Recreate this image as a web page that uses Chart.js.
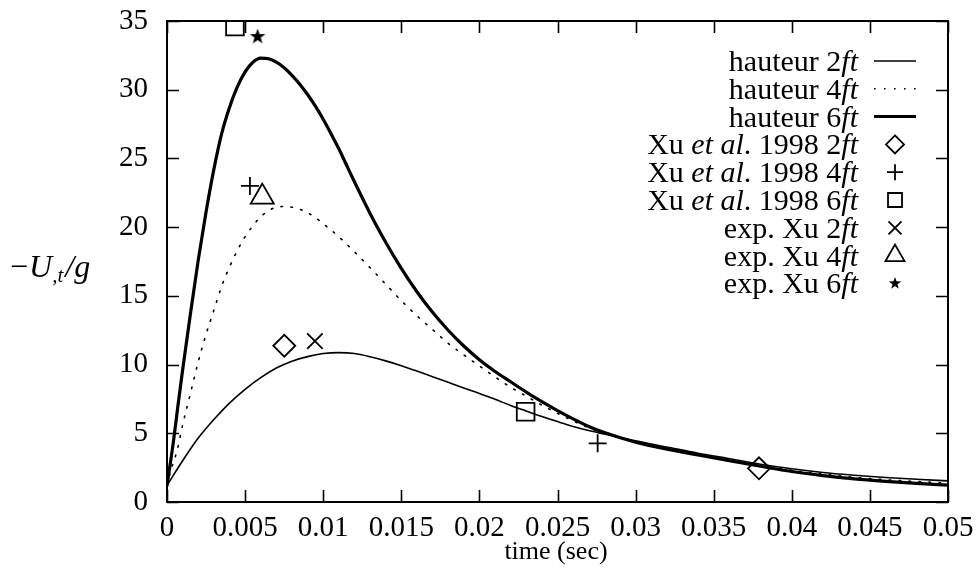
<!DOCTYPE html>
<html><head><meta charset="utf-8">
<script src="https://cdn.jsdelivr.net/npm/chart.js@4.4.0/dist/chart.umd.min.js"></script>
<style>html,body{margin:0;padding:0;background:#fff}#wrap{width:977px;height:573px;position:relative}</style>
</head><body><div id="wrap"><canvas id="c" width="977" height="573"></canvas></div>
<script>
// ---- data ----
const time6 = [0,0.0004,0.0007,0.001,0.0015,0.002,0.0025,0.003,0.0035,0.004,0.0045,0.005,0.0055,0.006,0.0065,0.007,0.0075,0.008,0.0085,0.009,0.0095,0.010,0.0105,0.011,0.0115,0.012,0.013,0.014,0.015,0.016,0.017,0.018,0.019,0.020,0.021,0.022,0.023,0.024,0.025,0.026,0.027,0.028,0.030,0.032,0.034,0.036,0.038,0.040,0.042,0.044,0.046,0.048,0.050];
const haut6 = [1.2,4.3,7.0,9.6,13.7,17.6,21.1,24.2,26.8,28.7,30.2,31.3,32.0,32.3,32.25,32.0,31.6,31.05,30.4,29.65,28.8,27.85,26.8,25.7,24.5,23.3,21.0,18.9,17.0,15.3,13.8,12.5,11.35,10.35,9.5,8.75,8.0,7.3,6.65,6.05,5.5,5.05,4.35,3.85,3.42,3.0,2.6,2.22,1.92,1.68,1.5,1.35,1.23];
const time4 = [0,0.0003,0.00066,0.001,0.0015,0.002,0.0025,0.003,0.0035,0.004,0.0045,0.005,0.0055,0.006,0.0065,0.007,0.0075,0.008,0.0085,0.009,0.0095,0.010,0.011,0.012,0.013,0.014,0.015,0.016,0.017,0.018,0.019,0.020,0.021,0.022,0.023,0.024,0.025,0.026,0.027,0.028,0.030,0.032,0.034,0.036,0.038,0.040,0.042,0.044,0.046,0.048,0.050];
const haut4 = [1.2,2.5,3.8,5.6,7.9,10.2,12.2,13.95,15.7,17.1,18.3,19.3,20.1,20.75,21.2,21.45,21.5,21.45,21.3,21.05,20.7,20.25,19.3,18.2,17.05,15.85,14.65,13.55,12.55,11.55,10.7,9.9,9.1,8.35,7.7,7.05,6.45,5.9,5.4,5.0,4.35,3.85,3.42,3.02,2.65,2.3,2.02,1.8,1.62,1.49,1.38];
const time2 = [0,0.001,0.002,0.003,0.004,0.005,0.006,0.007,0.008,0.009,0.010,0.011,0.012,0.013,0.014,0.015,0.016,0.017,0.018,0.019,0.020,0.021,0.022,0.023,0.024,0.025,0.026,0.027,0.028,0.030,0.032,0.034,0.036,0.038,0.040,0.042,0.044,0.046,0.048,0.050];
const haut2 = [1.2,3.0,4.65,6.0,7.2,8.2,9.05,9.75,10.25,10.58,10.8,10.87,10.8,10.57,10.27,9.92,9.53,9.12,8.71,8.3,7.9,7.47,7.03,6.62,6.22,5.85,5.5,5.2,4.95,4.45,4.0,3.55,3.15,2.75,2.42,2.15,1.95,1.78,1.65,1.54];

const xu2Time = [0.00751, 0.0379];  const xu2Val = [11.37, 2.45];
const xu4Time = [0.00531, 0.02757]; const xu4Val = [23.0, 4.27];
const xu6Time = [0.00435, 0.02296]; const xu6Val = [34.6, 6.57];
const exp2Time = [0.00947]; const exp2Val = [11.7];
const exp4Time = [0.0061];  const exp4Val = [22.2];
const exp6Time = [0.0058];  const exp6Val = [33.9];

const xTickValues = [0,0.005,0.01,0.015,0.02,0.025,0.03,0.035,0.04,0.045,0.05];
const xTickLabels = ['0','0.005','0.01','0.015','0.02','0.025','0.03','0.035','0.04','0.045','0.05'];
const yTickValues = [0,5,10,15,20,25,30,35];
const yTickLabels = ['0','5','10','15','20','25','30','35'];

const legendRows = [
  [['hauteur ','n'],['2','n'],['ft','i']],
  [['hauteur ','n'],['4','n'],['ft','i']],
  [['hauteur ','n'],['6','n'],['ft','i']],
  [['Xu ','n'],['et al','i'],['. 1998 ','n'],['2','n'],['ft','i']],
  [['Xu ','n'],['et al','i'],['. 1998 ','n'],['4','n'],['ft','i']],
  [['Xu ','n'],['et al','i'],['. 1998 ','n'],['6','n'],['ft','i']],
  [['exp. Xu ','n'],['2','n'],['ft','i']],
  [['exp. Xu ','n'],['4','n'],['ft','i']],
  [['exp. Xu ','n'],['6','n'],['ft','i']]
];
const legendSymbols = ['line','dot','thick','diamond','plus','square','cross','triangle','star'];

// ---- helpers ----
const SERIF = '"Liberation Serif","Times New Roman",serif';
const pts = (ts, vs) => ts.map((t, i) => ({x: t, y: vs[i]}));

function starPath(ctx, cx, cy, ro, ri) {
  ctx.beginPath();
  for (let k = 0; k < 10; k++) {
    const r = k % 2 ? ri : ro;
    const a = -Math.PI / 2 + k * Math.PI / 5;
    const px = cx + r * Math.cos(a), py = cy + r * Math.sin(a);
    k ? ctx.lineTo(px, py) : ctx.moveTo(px, py);
  }
  ctx.closePath();
}
const starImg = document.createElement('canvas');
starImg.width = 18; starImg.height = 18;
(function(){ const c = starImg.getContext('2d'); c.fillStyle = '#000'; starPath(c, 9, 9.6, 8.2, 3.3); c.fill(); })();

function drawSymbol(ctx, kind, cx, cy) {
  ctx.save();
  ctx.strokeStyle = '#000'; ctx.fillStyle = '#000'; ctx.lineWidth = 1.8;
  ctx.beginPath();
  if (kind === 'line' || kind === 'thick') {
    ctx.lineWidth = kind === 'thick' ? 3 : 1.6;
    ctx.moveTo(cx - 21, cy); ctx.lineTo(cx + 21, cy); ctx.stroke();
  } else if (kind === 'dot') {
    ctx.lineWidth = 1.6; ctx.setLineDash([1.6, 8.4]);
    ctx.moveTo(cx - 21, cy); ctx.lineTo(cx + 21, cy); ctx.stroke();
  } else if (kind === 'diamond') {
    const r = 9;
    ctx.moveTo(cx, cy - r); ctx.lineTo(cx + r, cy); ctx.lineTo(cx, cy + r); ctx.lineTo(cx - r, cy); ctx.closePath(); ctx.stroke();
  } else if (kind === 'plus') {
    const r = 8;
    ctx.moveTo(cx - r, cy); ctx.lineTo(cx + r, cy); ctx.moveTo(cx, cy - r); ctx.lineTo(cx, cy + r); ctx.stroke();
  } else if (kind === 'square') {
    const r = 7;
    ctx.rect(cx - r, cy - r, 2 * r, 2 * r); ctx.stroke();
  } else if (kind === 'cross') {
    const r = 6.5;
    ctx.moveTo(cx - r, cy - r); ctx.lineTo(cx + r, cy + r); ctx.moveTo(cx + r, cy - r); ctx.lineTo(cx - r, cy + r); ctx.stroke();
  } else if (kind === 'triangle') {
    const r = 11;
    ctx.moveTo(cx, cy - r); ctx.lineTo(cx + r * 0.866, cy + r / 2); ctx.lineTo(cx - r * 0.866, cy + r / 2); ctx.closePath(); ctx.stroke();
  } else if (kind === 'star') {
    starPath(ctx, cx, cy, 6.5, 2.6); ctx.fill();
  }
  ctx.restore();
}

function drawRich(ctx, segs, rightX, baseY, size) {
  const font = s => (s === 'i' ? 'italic ' : '') + size + 'px ' + SERIF;
  let w = 0;
  segs.forEach(([t, s]) => { ctx.font = font(s); w += ctx.measureText(t).width; });
  let xx = rightX - w;
  segs.forEach(([t, s]) => { ctx.font = font(s); ctx.fillText(t, xx, baseY); xx += ctx.measureText(t).width; });
}

const decor = {
  id: 'decor',
  afterDraw(chart) {
    const {ctx, chartArea: a, scales: {x, y}} = chart;
    ctx.save();
    ctx.strokeStyle = '#000'; ctx.fillStyle = '#000';
    ctx.lineWidth = 2;
    ctx.strokeRect(a.left, a.top, a.right - a.left, a.bottom - a.top);
    const TL = 12;
    ctx.lineWidth = 1.6;
    ctx.beginPath();
    x.ticks.forEach(t => {
      const px = Math.round(x.getPixelForValue(t.value)) + 0.5;
      ctx.moveTo(px, a.bottom); ctx.lineTo(px, a.bottom - TL);
      ctx.moveTo(px, a.top); ctx.lineTo(px, a.top + TL);
    });
    y.ticks.forEach(t => {
      const py = Math.round(y.getPixelForValue(t.value)) + 0.5;
      ctx.moveTo(a.left, py); ctx.lineTo(a.left + TL, py);
      ctx.moveTo(a.right, py); ctx.lineTo(a.right - TL, py);
    });
    ctx.stroke();

    // legend
    ctx.textBaseline = 'alphabetic';
    legendRows.forEach((segs, i) => {
      const cy = 61 + i * 27.8;
      drawRich(ctx, segs, 858, cy + 10, 30);
      drawSymbol(ctx, legendSymbols[i], 895, cy);
    });

    // y title: -U,t/g
    let xx = 10; const base = 277;
    ctx.font = '32px ' + SERIF; ctx.fillText('\u2212', xx, base); xx += ctx.measureText('\u2212').width + 1;
    ctx.font = 'italic 32px ' + SERIF; ctx.fillText('U', xx, base); xx += ctx.measureText('U').width;
    ctx.font = 'italic 21px ' + SERIF; ctx.fillText(',t', xx, base + 5); xx += ctx.measureText(',t').width + 2;
    ctx.font = 'italic 32px ' + SERIF; ctx.fillText('/g', xx, base);

    // x title
    ctx.font = '26px ' + SERIF; ctx.textAlign = 'center';
    ctx.fillText('time (sec)', 556, 559);
    ctx.restore();
  }
};

const lineDs = (label, ts, vs, w, dash) => ({
  label, data: pts(ts, vs), showLine: true, borderColor: '#000', borderWidth: w,
  borderDash: dash || [], pointRadius: 0, pointHoverRadius: 0, fill: false,
  cubicInterpolationMode: 'monotone', borderCapStyle: 'round'
});
const markDs = (label, ts, vs, style, r) => ({
  label, data: pts(ts, vs), showLine: false, pointStyle: style, pointRadius: r,
  pointBorderColor: '#000', pointBackgroundColor: 'rgba(0,0,0,0)', pointBorderWidth: 1.8,
  borderColor: '#000', backgroundColor: 'rgba(0,0,0,0)'
});
const noPad = s => { s.paddingTop = 0; s.paddingBottom = 0; s.paddingLeft = 0; s.paddingRight = 0; };

new Chart(document.getElementById('c'), {
  type: 'scatter',
  data: {
    datasets: [
      lineDs('hauteur 2ft', time2, haut2, 1.6),
      lineDs('hauteur 4ft', time4, haut4, 1.6, [1.6, 8.4]),
      lineDs('hauteur 6ft', time6, haut6, 3.2),
      markDs('Xu et al. 1998 2ft', xu2Time, xu2Val, 'rectRot', 11),
      markDs('Xu et al. 1998 4ft', xu4Time, xu4Val, 'cross', 9),
      markDs('Xu et al. 1998 6ft', xu6Time, xu6Val, 'rect', 12.5),
      markDs('exp. Xu 2ft', exp2Time, exp2Val, 'crossRot', 11),
      markDs('exp. Xu 4ft', exp4Time, exp4Val, 'triangle', 13.3),
      markDs('exp. Xu 6ft', exp6Time, exp6Val, starImg, 9)
    ]
  },
  options: {
    responsive: false, animation: false, devicePixelRatio: 1,
    layout: {autoPadding: false, padding: {top: 21, right: 29, left: 0, bottom: 0}},
    plugins: {legend: {display: false}, tooltip: {enabled: false}},
    elements: {line: {tension: 0}},
    scales: {
      x: {
        type: 'linear', min: 0, max: 0.05,
        afterBuildTicks: s => { s.ticks = xTickValues.map(v => ({value: v})); },
        afterFit: s => { s.height = 71; noPad(s); },
        grid: {display: false, drawTicks: false}, border: {display: false},
        ticks: {padding: 9, color: '#000', font: {family: SERIF, size: 29}, maxRotation: 0, autoSkip: false,
          callback: (v, i) => xTickLabels[i]}
      },
      y: {
        type: 'linear', min: 0, max: 35,
        afterBuildTicks: s => { s.ticks = yTickValues.map(v => ({value: v})); },
        afterFit: s => { s.width = 167; noPad(s); },
        grid: {display: false, drawTicks: false}, border: {display: false},
        ticks: {padding: 19, color: '#000', font: {family: SERIF, size: 29}, autoSkip: false,
          callback: (v, i) => yTickLabels[i]}
      }
    }
  },
  plugins: [decor]
});
</script>
</body></html>
